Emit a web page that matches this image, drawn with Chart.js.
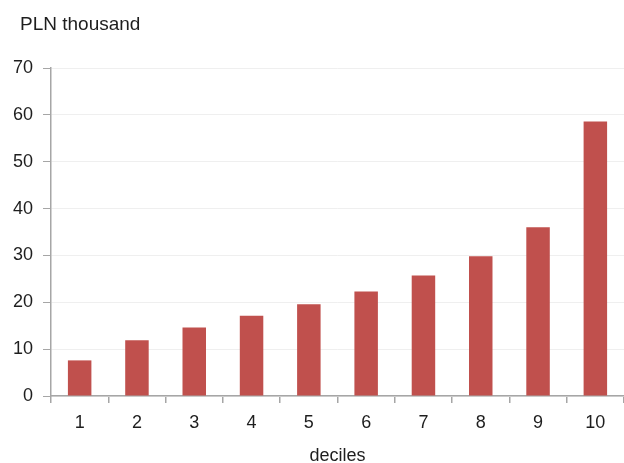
<!DOCTYPE html>
<html><head><meta charset="utf-8">
<script src="https://cdn.jsdelivr.net/npm/chart.js@4"></script>
<style>html,body{margin:0;padding:0;background:#fff}</style>
</head><body>
<canvas id="c" width="624" height="463" style="display:block;width:624px;height:463px"></canvas>
<script>
const categories = ['1','2','3','4','5','6','7','8','9','10'];
const values = [7.6, 11.9, 14.6, 17.1, 19.6, 22.3, 25.7, 29.8, 36.0, 58.6];
const yTicks = [0, 10, 20, 30, 40, 50, 60, 70];
const unitLabel = 'PLN thousand';
const xTitle = 'deciles';

const FONT_FAMILY = '"Liberation Sans", Arial, sans-serif';
const TEXT = '#1e1e1e';
const AXIS = '#a6a6a6';

const unitTitle = {
  id: 'unitTitle',
  afterDraw(chart) {
    const ctx = chart.ctx;
    ctx.save();
    ctx.font = '19px ' + FONT_FAMILY;
    ctx.fillStyle = TEXT;
    ctx.textBaseline = 'alphabetic';
    ctx.textAlign = 'left';
    ctx.fillText(unitLabel, 20, 30);
    ctx.restore();
  }
};

new Chart(document.getElementById('c'), {
  type: 'bar',
  data: {
    labels: categories,
    datasets: [{
      data: values,
      backgroundColor: '#C0504D',
      borderWidth: 0,
      barPercentage: 0.41,
      categoryPercentage: 1.0
    }]
  },
  options: {
    responsive: false,
    animation: false,
    devicePixelRatio: 1,
    layout: { padding: { top: 68, left: 0, right: 0, bottom: 0 } },
    plugins: { legend: { display: false }, tooltip: { enabled: false } },
    scales: {
      x: {
        grid: { offset: true, drawOnChartArea: false, drawTicks: true, tickLength: 7, tickColor: AXIS, lineWidth: 1.5 },
        border: { color: AXIS, width: 1.5 },
        ticks: { padding: 9, color: TEXT, font: { family: FONT_FAMILY, size: 18 } },
        title: { display: true, text: xTitle, color: TEXT, font: { family: FONT_FAMILY, size: 18, lineHeight: 1 }, padding: { top: 0, bottom: -2 } },
        afterFit: s => { s.height = 67; }
      },
      y: {
        min: 0, max: 70,
        afterBuildTicks: s => { s.ticks = yTicks.map(v => ({ value: v })); },
        grid: { color: '#efefef', lineWidth: 1, tickColor: AXIS, tickLength: 8, drawTicks: true },
        border: { color: AXIS, width: 1.5 },
        ticks: { padding: 10, color: TEXT, font: { family: FONT_FAMILY, size: 18 } },
        afterFit: s => { s.width = 51; }
      }
    }
  },
  plugins: [unitTitle]
});
</script>
</body></html>
